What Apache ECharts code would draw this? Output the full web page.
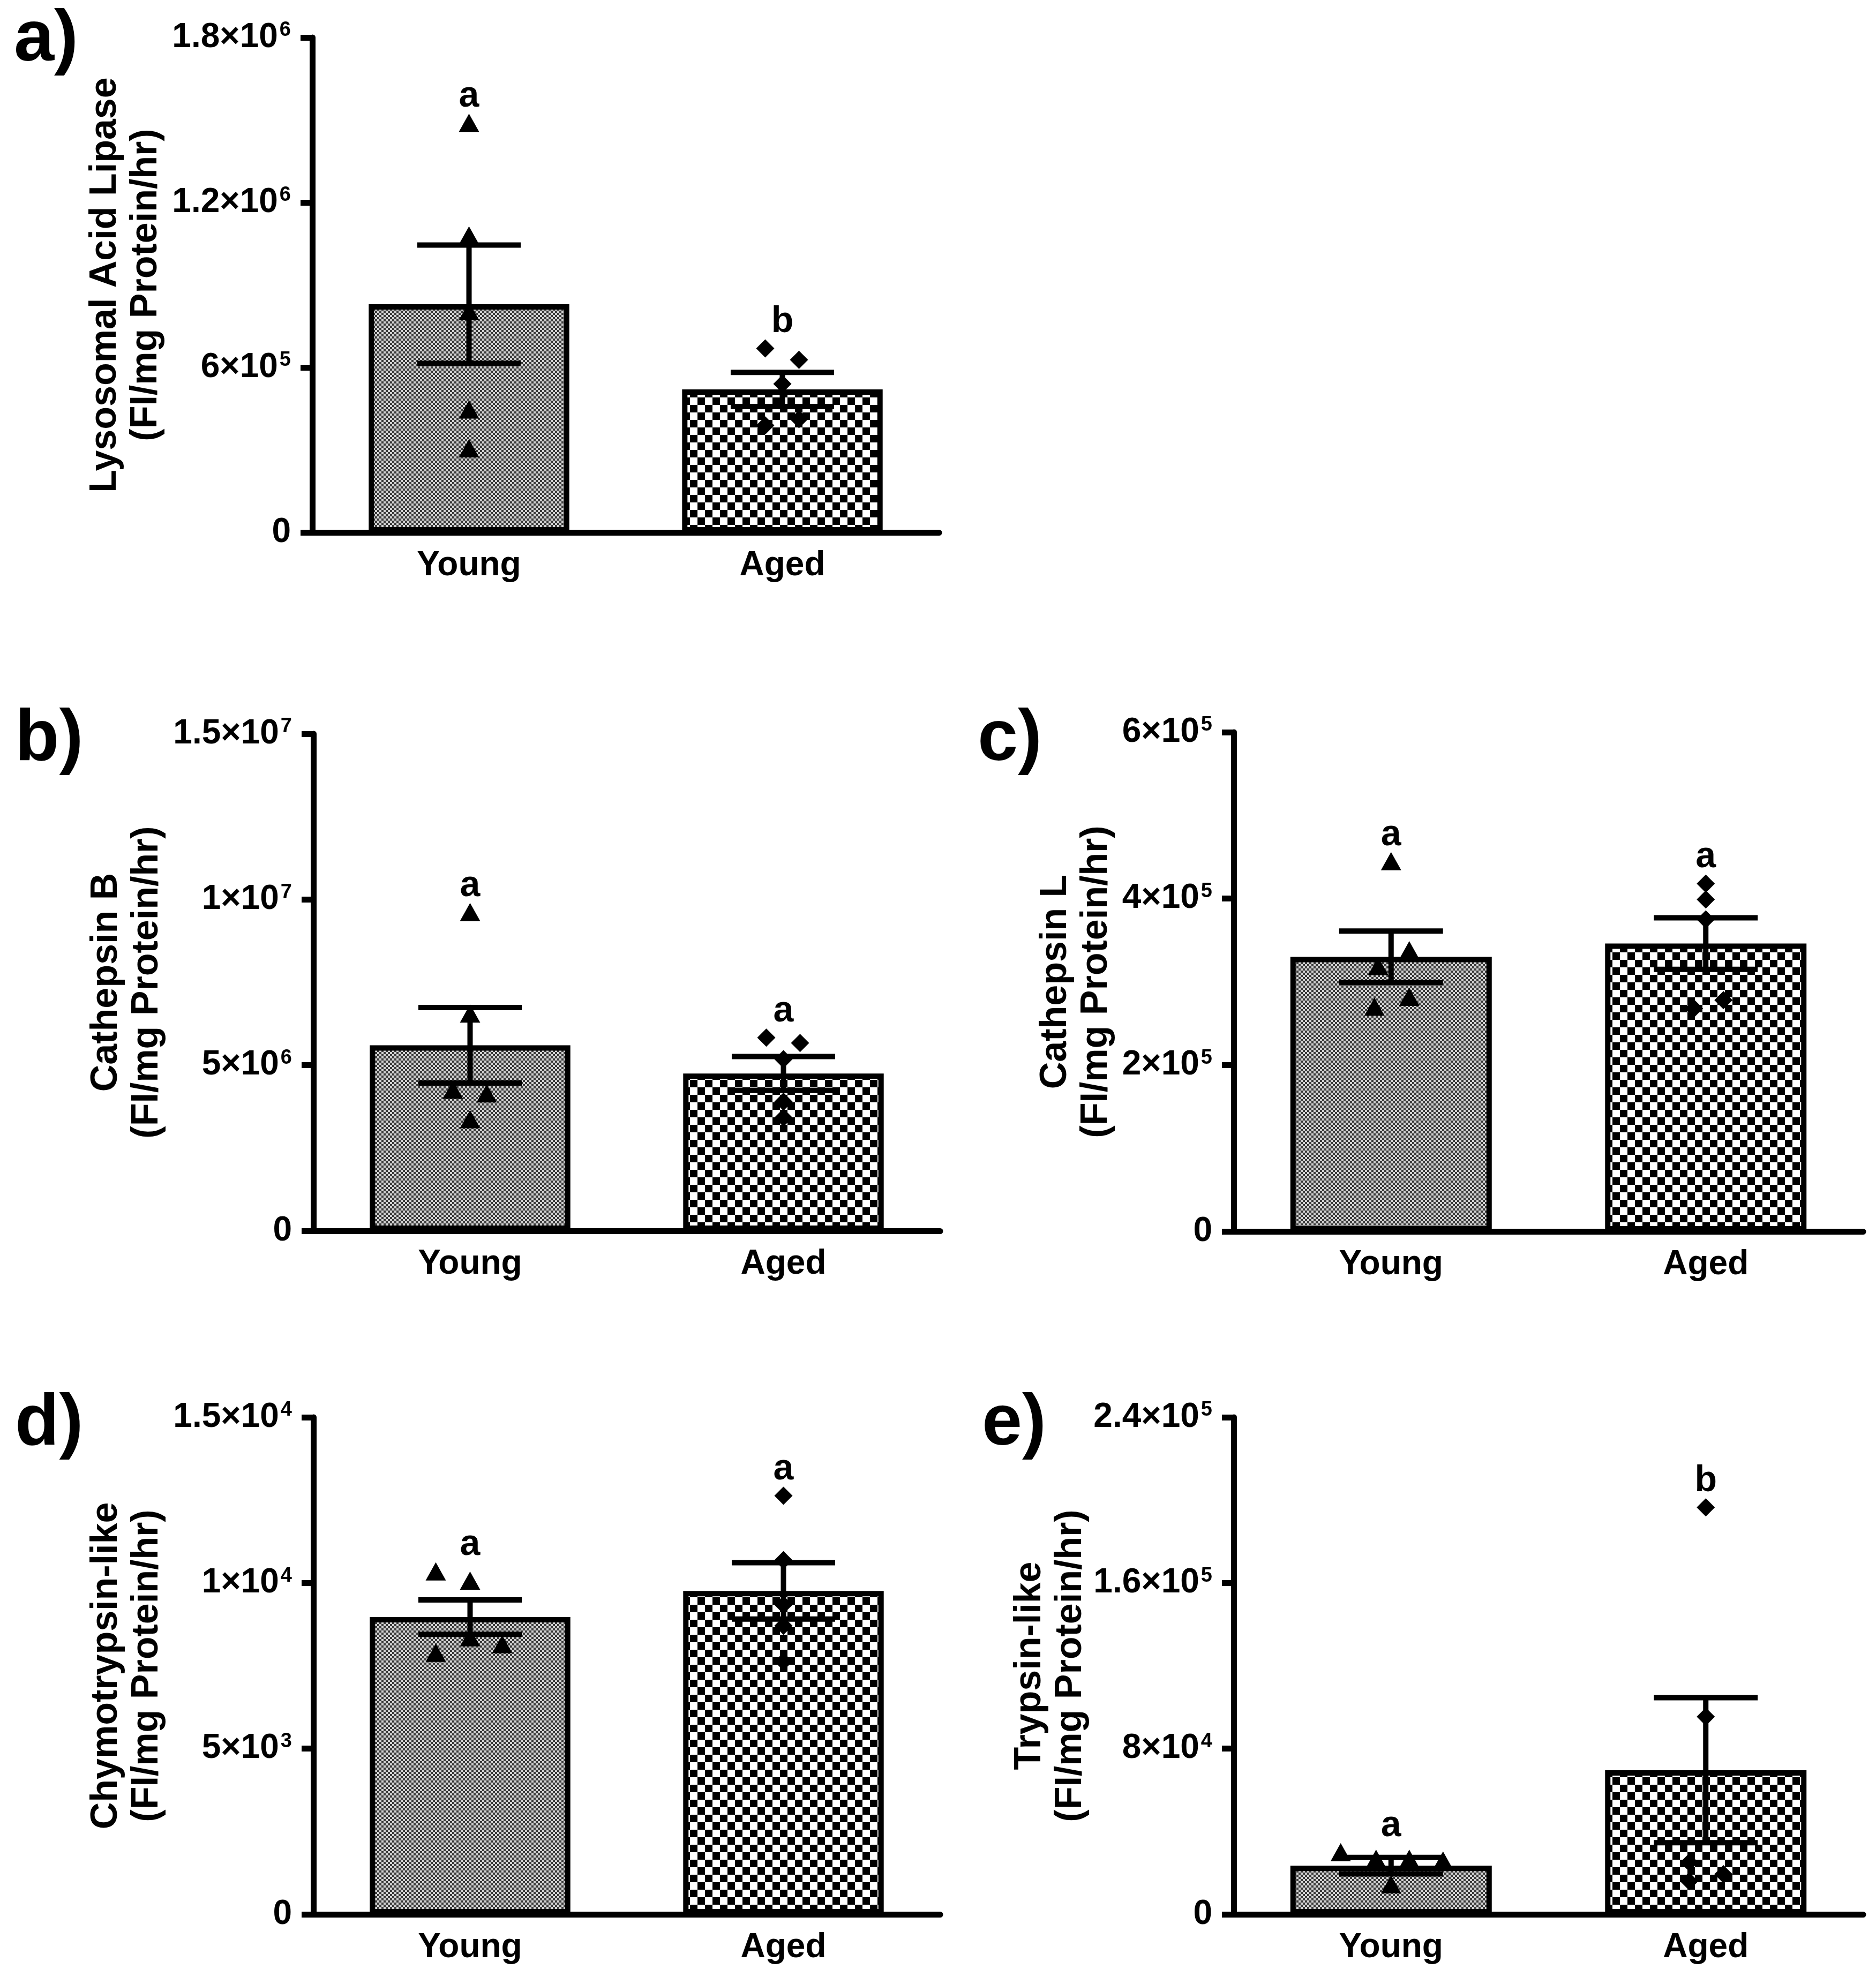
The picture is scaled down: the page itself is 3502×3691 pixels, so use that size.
<!DOCTYPE html>
<html><head><meta charset="utf-8">
<script src="https://cdn.jsdelivr.net/npm/echarts@6/dist/echarts.min.js"></script>
<style>html,body{margin:0;padding:0;background:#fff}#c{width:3502px;height:3691px}</style>
</head><body><div id="c"></div>
<script>
// ---------------- DATA ----------------
const categories = ['Young', 'Aged'];

// a) Lysosomal Acid Lipase
const lipaseMean = [830000, 520000];
const lipaseSem = [215000, 62000];
const lipaseYoung = [1490000, 1080000, 805000, 447000, 306000];
const lipaseAged = [669000, 628000, 540000, 412000, 389000];
const lipaseLetters = ['a', 'b'];
const lipaseTicks = [0, 600000, 1200000, 1800000];
const lipaseTickLabels = ['0', '6×10^5', '1.2×10^6', '1.8×10^6'];

// b) Cathepsin B
const cathBMean = [5600000, 4750000];
const cathBSem = [1140000, 510000];
const cathBYoung = [9620000, 6560000, 4260000, 4150000, 3370000];
const cathBAged = [5830000, 5670000, 5180000, 3900000, 3420000];
const cathBLetters = ['a', 'a'];
const cathBTicks = [0, 5000000, 10000000, 15000000];
const cathBTickLabels = ['0', '5×10^6', '1×10^7', '1.5×10^7'];

// c) Cathepsin L
const cathLMean = [330000, 346000];
const cathLSem = [31000, 31000];
const cathLYoung = [445000, 338000, 319000, 282000, 270000];
const cathLAged = [418000, 399000, 375000, 278000, 268000];
const cathLLetters = ['a', 'a'];
const cathLTicks = [0, 200000, 400000, 600000];
const cathLTickLabels = ['0', '2×10^5', '4×10^5', '6×10^5'];

// d) Chymotrypsin-like
const chymoMean = [8970, 9760];
const chymoSem = [520, 850];
const chymoYoung = [10350, 10070, 8360, 8150, 7890];
const chymoAged = [12630, 10690, 9340, 8710, 7630];
const chymoLetters = ['a', 'a'];
const chymoTicks = [0, 5000, 10000, 15000];
const chymoTickLabels = ['0', '5×10^3', '1×10^4', '1.5×10^4'];

// e) Trypsin-like
const trypMean = [23500, 69600];
const trypSem = [4000, 35000];
const trypYoung = [30000, 26800, 26800, 26000, 14500];
const trypAged = [196500, 95400, 25100, 19400, 16000];
const trypLetters = ['a', 'b'];
const trypTicks = [0, 80000, 160000, 240000];
const trypTickLabels = ['0', '8×10^4', '1.6×10^5', '2.4×10^5'];

// ---------------- STYLE / LAYOUT ----------------
const FONT = '"Liberation Sans", Arial, sans-serif';
const panels = [
  { tag: 'a)', name: 'Lysosomal Acid Lipase\n(FI/mg Protein/hr)', mean: lipaseMean, sem: lipaseSem, young: lipaseYoung, aged: lipaseAged, letters: lipaseLetters, ticks: lipaseTicks, labels: lipaseTickLabels,
    grid: { left: 583, top: 70, width: 1170, height: 924 }, nameGap: 272, tagPos: [26, 76],
    jy: [0, 0, 0, 0, 0], ja: [-32, 31, 0, 31, -32] },
  { tag: 'b)', name: 'Cathepsin B\n(FI/mg Protein/hr)', mean: cathBMean, sem: cathBSem, young: cathBYoung, aged: cathBAged, letters: cathBLetters, ticks: cathBTicks, labels: cathBTickLabels,
    grid: { left: 585, top: 1370, width: 1170, height: 928 }, nameGap: 272, tagPos: [28, 1382],
    jy: [0, 0, -32, 31, 0], ja: [-32, 31, 0, 0, 0] },
  { tag: 'c)', name: 'Cathepsin L\n(FI/mg Protein/hr)', mean: cathLMean, sem: cathLSem, young: cathLYoung, aged: cathLAged, letters: cathLLetters, ticks: cathLTicks, labels: cathLTickLabels,
    grid: { left: 2303, top: 1367, width: 1175, height: 932 }, nameGap: 218, tagPos: [1825, 1382],
    jy: [0, 34, -24, 34, -31], ja: [0, 0, 0, 33, -22] },
  { tag: 'd)', name: 'Chymotrypsin-like\n(FI/mg Protein/hr)', mean: chymoMean, sem: chymoSem, young: chymoYoung, aged: chymoAged, letters: chymoLetters, ticks: chymoTicks, labels: chymoTickLabels,
    grid: { left: 585, top: 2646, width: 1170, height: 928 }, nameGap: 272, tagPos: [28, 2660],
    jy: [-64, 0, 0, 60, -64], ja: [0, 0, 0, 0, 0] },
  { tag: 'e)', name: 'Trypsin-like\n(FI/mg Protein/hr)', mean: trypMean, sem: trypSem, young: trypYoung, aged: trypAged, letters: trypLetters, ticks: trypTicks, labels: trypTickLabels,
    grid: { left: 2303, top: 2646, width: 1175, height: 928 }, nameGap: 266, tagPos: [1833, 2660],
    jy: [-94, -28, 34, 97, 0], ja: [0, 0, -31, 33, -31] }
];

function makePattern(cell, dark, light) {
  const c = document.createElement('canvas');
  c.width = c.height = cell * 2;
  const g = c.getContext('2d');
  g.fillStyle = light; g.fillRect(0, 0, cell * 2, cell * 2);
  g.fillStyle = dark; g.fillRect(0, 0, cell, cell); g.fillRect(cell, cell, cell, cell);
  return c;
}
const youngFill = { image: makePattern(4, '#3a3a3a', '#d2d2d2'), repeat: 'repeat' };
const agedFill = { image: makePattern(14, '#000000', '#ffffff'), repeat: 'repeat' };

function richLabel(str) {
  const p = str.split('^');
  return p.length === 2 ? '{b|' + p[0] + '}{s|' + p[1] + '}' : '{b|' + str + '}';
}

const grids = [], xAxes = [], yAxes = [], series = [], graphics = [];
panels.forEach((P, i) => {
  grids.push(P.grid);
  xAxes.push({
    type: 'category', gridIndex: i, data: categories, boundaryGap: true,
    axisLine: { lineStyle: { color: '#000', width: 11 } },
    axisTick: { alignWithLabel: true, length: 24, lineStyle: { color: '#000', width: 10 } },
    axisLabel: { color: '#000', fontSize: 64, fontWeight: 'bold', fontFamily: FONT, margin: 30 },
    splitLine: { show: false }
  });
  const step = P.ticks[1] - P.ticks[0];
  yAxes.push({
    type: 'value', gridIndex: i, min: P.ticks[0], max: P.ticks[P.ticks.length - 1], interval: step,
    name: P.name, nameLocation: 'middle', nameGap: P.nameGap,
    nameTextStyle: { color: '#000', fontSize: 70, fontWeight: 'bold', fontFamily: FONT, lineHeight: 76 },
    axisLine: { show: true, lineStyle: { color: '#000', width: 11 } },
    axisTick: { show: true, length: 22, lineStyle: { color: '#000', width: 11 } },
    splitLine: { show: false },
    axisLabel: {
      margin: 40,
      formatter: function (v) {
        const k = P.ticks.findIndex(t => Math.abs(t - v) < step * 1e-6);
        return k >= 0 ? richLabel(P.labels[k]) : '';
      },
      rich: {
        b: { fontSize: 64, fontWeight: 'bold', fontFamily: FONT, color: '#000', lineHeight: 64 },
        s: { fontSize: 38, fontWeight: 'bold', fontFamily: FONT, color: '#000', verticalAlign: 'top', padding: [0, 0, 0, 3] }
      }
    }
  });
  series.push({
    type: 'bar', xAxisIndex: i, yAxisIndex: i, barWidth: '64%', z: 2,
    data: P.mean.map((v, k) => ({ value: v, itemStyle: { color: k === 0 ? youngFill : agedFill } })),
    itemStyle: { borderColor: '#000', borderWidth: 10, opacity: 1 },
    silent: true
  });
  series.push({
    type: 'custom', xAxisIndex: i, yAxisIndex: i, z: 3, silent: true,
    data: P.mean.map((m, k) => [k, m, P.sem[k]]),
    renderItem: function (params, api) {
      const x = api.value(0), m = api.value(1), s = api.value(2);
      const top = api.coord([x, m + s]), bot = api.coord([x, m - s]);
      const half = api.size([1, 0])[0] * 0.33 / 2;
      const st = { stroke: '#000', lineWidth: 10 };
      return {
        type: 'group', children: [
          { type: 'line', shape: { x1: top[0], y1: top[1], x2: bot[0], y2: bot[1] }, style: st },
          { type: 'line', shape: { x1: top[0] - half, y1: top[1], x2: top[0] + half, y2: top[1] }, style: st },
          { type: 'line', shape: { x1: bot[0] - half, y1: bot[1], x2: bot[0] + half, y2: bot[1] }, style: st }
        ]
      };
    }
  });
  series.push({
    type: 'scatter', xAxisIndex: i, yAxisIndex: i, z: 4, silent: true,
    symbol: 'triangle', symbolSize: [38, 34], itemStyle: { color: '#000', opacity: 1 },
    data: P.young.map((v, k) => ({ value: [0, v], symbolOffset: [P.jy[k], 0] }))
  });
  series.push({
    type: 'scatter', xAxisIndex: i, yAxisIndex: i, z: 4, silent: true,
    symbol: 'diamond', symbolSize: [34, 34], itemStyle: { color: '#000', opacity: 1 },
    data: P.aged.map((v, k) => ({ value: [1, v], symbolOffset: [P.ja[k], 0] }))
  });
  const tops = [Math.max(...P.young), Math.max(...P.aged)];
  series.push({
    type: 'scatter', xAxisIndex: i, yAxisIndex: i, z: 5, silent: true,
    symbolSize: 0, itemStyle: { opacity: 1 },
    data: tops.map((v, k) => ({ value: [k, v] })),
    label: {
      show: true, position: 'top', distance: 15, color: '#000', opacity: 1, fontSize: 68, fontWeight: 'bold', fontFamily: FONT,
      formatter: p => P.letters[p.dataIndex]
    }
  });
  graphics.push({
    type: 'text', x: P.tagPos[0], y: P.tagPos[1], silent: true,
    style: { text: P.tag, fill: '#000', fontSize: 135, fontWeight: 'bold', fontFamily: FONT, align: 'left', verticalAlign: 'middle' }
  });
});

const chart = echarts.init(document.getElementById('c'), null, { renderer: 'canvas' });
chart.setOption({
  backgroundColor: '#fff',
  animation: false,
  grid: grids, xAxis: xAxes, yAxis: yAxes, series: series, graphic: graphics
});
</script></body></html>
